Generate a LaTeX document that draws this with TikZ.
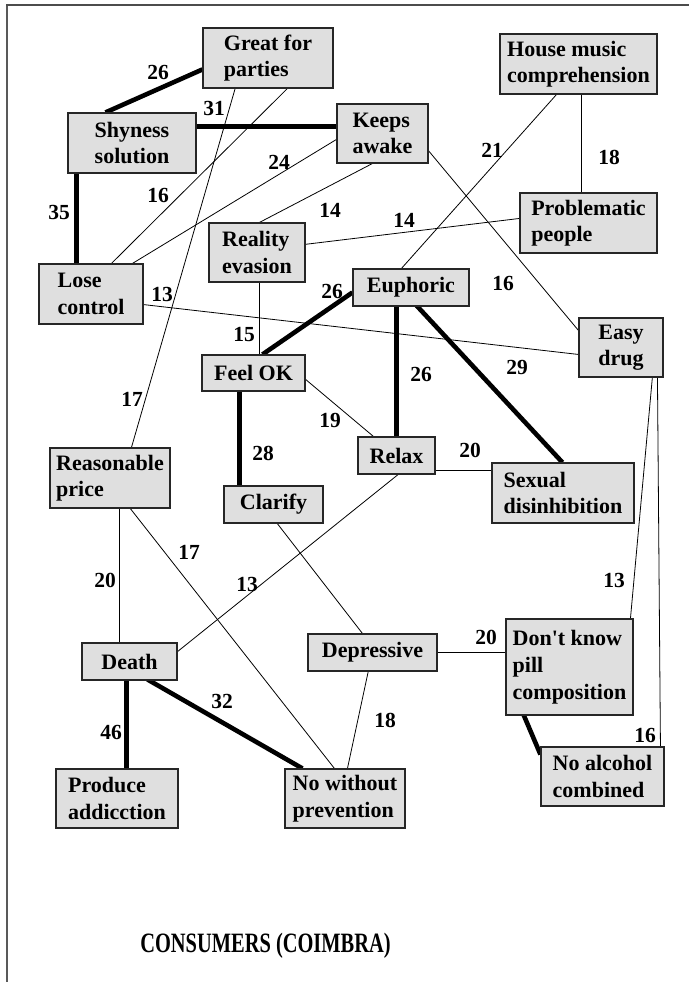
\documentclass[tikz,border=0pt]{standalone}
\usepackage{fontspec}
\usepackage{graphicx}
\setmainfont{Liberation Serif}
\usetikzlibrary{calc,backgrounds}

\tikzset{
  concept/.style={draw=black!85, line width=1.1pt, fill=gray!25, inner sep=0pt,
    align=left, font=\fontsize{22}{26.5}\selectfont\bfseries},
  weight/.style={inner sep=0pt, font=\fontsize{21.5}{23}\selectfont\bfseries},
  weak/.style={draw=black, line width=0.8pt},
  strong/.style={draw=black, line width=4.6pt},
}

\begin{document}
\begin{tikzpicture}[x=1pt,y=-1pt]
\useasboundingbox (0,0) rectangle (691,982);

% page frame (top and left edges)
\draw[black!65, line width=2pt] (7,982) -- (7,5);
\draw[black!70, line width=1.2pt] (6,5) -- (689,5);

% concepts
\node[concept, minimum width=130pt, minimum height=60pt] (great)   at (268,58)    {Great for\\parties};
\node[concept, minimum width=128pt, minimum height=60pt] (shy)     at (132,143)   {Shyness\\solution};
\node[concept, minimum width=91pt,  minimum height=59pt] (keeps)   at (382.5,133.5) {Keeps\\awake};
\node[concept, minimum width=157pt, minimum height=60pt] (house)   at (578.5,64)  {House music\\comprehension};
\node[concept, minimum width=137pt, minimum height=60pt] (prob)    at (588.5,223) {Problematic\\people};
\node[concept, minimum width=96pt,  minimum height=59pt] (reality) at (257,252.5) {Reality\\evasion};
\node[concept, minimum width=104pt, minimum height=60pt] (lose)    at (91,294)    {Lose\\control};
\node[concept, minimum width=116pt, minimum height=37pt] (euph)    at (411,287.5) {Euphoric};
\node[concept, minimum width=84pt,  minimum height=59pt] (easy)    at (621,347.5) {Easy\\drug};
\node[concept, minimum width=103pt, minimum height=36pt] (feel)    at (253.5,373) {Feel OK};
\node[concept, minimum width=77pt,  minimum height=37pt] (relax)   at (396.5,455.5) {Relax};
\node[concept, minimum width=142pt, minimum height=60pt] (sexual)  at (563,493)   {Sexual\\disinhibition};
\node[concept, minimum width=120pt, minimum height=60pt] (reason)  at (110,478)   {Reasonable\\price};
\node[concept, minimum width=99pt,  minimum height=37pt] (clarify) at (273.5,504.5) {Clarify};
\node[concept, minimum width=95pt,  minimum height=37pt] (death)   at (129.5,661.5) {Death};
\node[concept, minimum width=129pt, minimum height=37pt] (depr)    at (372.5,652.5) {Depressive};
\node[concept, minimum width=127pt, minimum height=96pt, font=\fontsize{22}{27}\selectfont\bfseries] (dont) at (569.5,667) {Don\textquotesingle t know\\pill\\composition};
\node[concept, minimum width=123pt, minimum height=59pt] (noalc)   at (602.5,776.5) {No alcohol\\combined};
\node[concept, minimum width=122pt, minimum height=59pt] (produce) at (117,798.5)  {Produce\\addicction};
\node[concept, minimum width=120pt, minimum height=59pt] (nowith)  at (345,798.5)  {No without\\prevention};

% links, offsets measured from each box's top-left corner
\begin{pgfonlayer}{background}
\draw[strong] ($(shy.north west)+(38,0)$)   -- ($(great.north west)+(0,42)$);
\draw[strong] ($(shy.north west)+(128,14)$) -- ($(keeps.north west)+(0,23)$);
\draw[strong] ($(shy.north west)+(9,60)$)   -- ($(lose.north west)+(38,0)$);
\draw[weak]   ($(great.north west)+(33,60)$) -- ($(reason.north west)+(82,0)$);
\draw[weak]   ($(great.north west)+(86,60)$) -- ($(lose.north west)+(73,0)$);
\draw[weak]   ($(keeps.north west)+(0,36)$)  -- ($(lose.north west)+(94,0)$);
\draw[weak]   ($(keeps.north west)+(38,59)$) -- ($(reality.north west)+(51,0)$);
\draw[weak]   ($(reality.north west)+(96,22)$) -- ($(prob.north west)+(0,26)$);
\draw[weak]   ($(house.north west)+(58,60)$) -- ($(euph.north west)+(49,0)$);
\draw[weak]   ($(house.north west)+(82,60)$) -- ($(prob.north west)+(62,0)$);
\draw[weak]   ($(keeps.north west)+(91,46)$) -- ($(easy.north west)+(0,13)$);
\draw[weak]   ($(lose.north west)+(104,41)$) -- ($(easy.north west)+(0,37)$);
\draw[weak]   ($(reality.north west)+(51,59)$) -- ($(feel.north west)+(58,0)$);
\draw[strong] ($(feel.north west)+(61,0)$)  -- ($(euph.north west)+(0,24)$);
\draw[strong] ($(euph.north west)+(44,37)$) -- ($(relax.north west)+(39,0)$);
\draw[strong] ($(euph.north west)+(64,37)$) -- ($(sexual.north west)+(71,0)$);
\draw[weak]   ($(feel.north west)+(103,24)$) -- ($(relax.north west)+(16,0)$);
\draw[strong] ($(feel.north west)+(38,36)$) -- ($(clarify.north west)+(16,0)$);
\draw[weak]   ($(relax.north west)+(77,34)$) -- ($(sexual.north west)+(0,8)$);
\draw[weak]   ($(relax.north west)+(42,37)$) -- ($(death.north west)+(95,10)$);
\draw[weak]   ($(clarify.north west)+(53,37)$) -- ($(depr.north west)+(55,0)$);
\draw[weak]   ($(reason.north west)+(70,60)$) -- ($(death.north west)+(38,0)$);
\draw[weak]   ($(reason.north west)+(80,60)$) -- ($(nowith.north west)+(50,0)$);
\draw[strong] ($(death.north west)+(45,37)$) -- ($(produce.north west)+(71,0)$);
\draw[strong] ($(death.north west)+(66,37)$) -- ($(nowith.north west)+(18,0)$);
\draw[weak]   ($(depr.north west)+(61,37)$) -- ($(nowith.north west)+(63,0)$);
\draw[weak]   ($(depr.north west)+(129,19)$) -- ($(dont.north west)+(0,34)$);
\draw[weak]   ($(easy.north west)+(74,59)$) -- ($(dont.north west)+(125,0)$);
\draw[weak]   ($(easy.north west)+(79,59)$) -- ($(noalc.north west)+(120,0)$);
\draw[strong] ($(dont.north west)+(18,96)$) -- ($(noalc.north west)+(0,8)$);
\end{pgfonlayer}

% link weights
\node[weight] (w1)  at (158,72)  {26};
\node[weight] (w2)  at (214,108) {31};
\node[weight] (w3)  at (59,212)  {35};
\node[weight] (w4)  at (132,399) {17};
\node[weight] (w5)  at (158,195) {16};
\node[weight] (w6)  at (279,162) {24};
\node[weight] (w7)  at (330,210) {14};
\node[weight] (w8)  at (404,220) {14};
\node[weight] (w9)  at (492,150) {21};
\node[weight] (w10) at (609,157) {18};
\node[weight] (w11) at (503,283) {16};
\node[weight] (w12) at (162,294) {13};
\node[weight] (w13) at (244,335) {15};
\node[weight] (w14) at (332,291) {26};
\node[weight] (w15) at (421,374) {26};
\node[weight] (w16) at (517,367) {29};
\node[weight] (w17) at (330,420) {19};
\node[weight] (w18) at (263,453) {28};
\node[weight] (w19) at (470,450) {20};
\node[weight] (w20) at (247,584) {13};
\node[weight] (w21) at (105,580) {20};
\node[weight] (w22) at (189,552) {17};
\node[weight] (w23) at (111,732) {46};
\node[weight] (w24) at (222,701) {32};
\node[weight] (w25) at (385,720) {18};
\node[weight] (w26) at (486,637) {20};
\node[weight] (w27) at (614,580) {13};
\node[weight] (w28) at (645,735) {16};

% caption
\node[inner sep=0pt] (title) at (265.5,946)
  {\scalebox{0.73}[1]{\fontsize{28}{30}\selectfont\bfseries CONSUMERS (COIMBRA)}};
\end{tikzpicture}
\end{document}
